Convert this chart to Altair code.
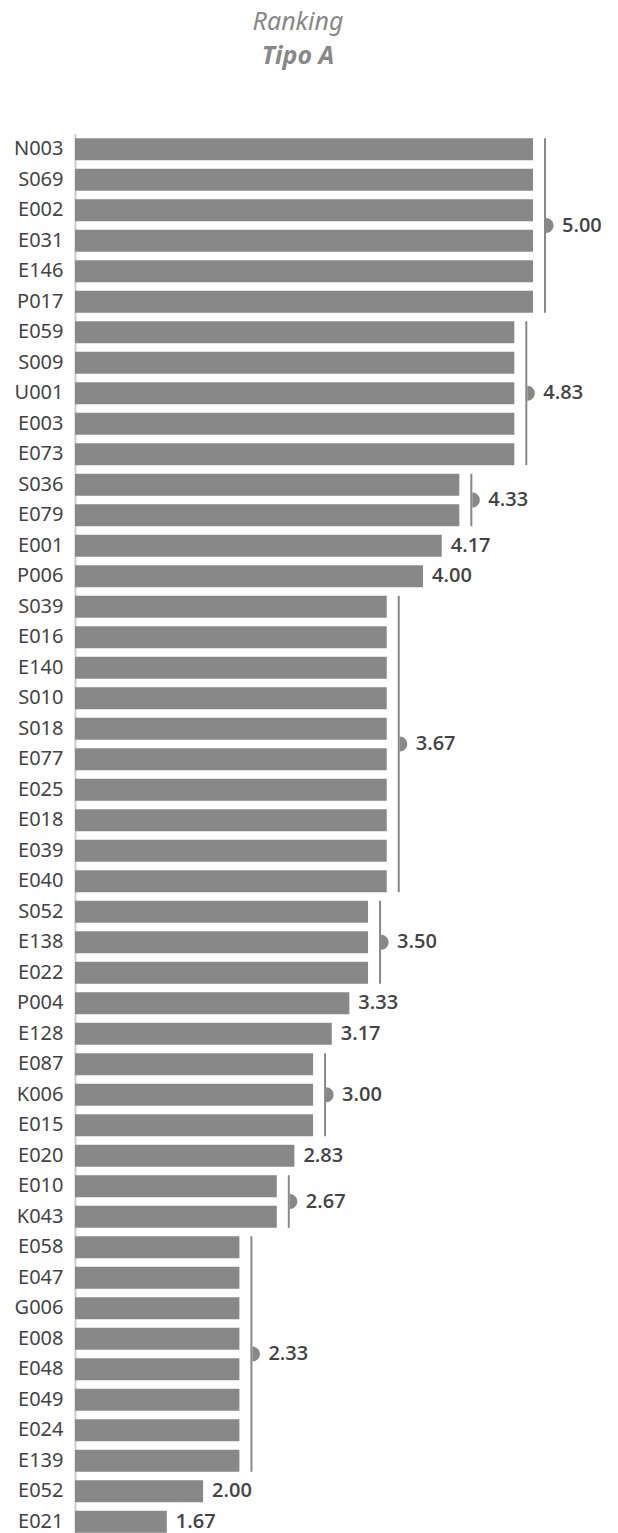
import altair as alt
import pandas as pd

codes = ["N003", "S069", "E002", "E031", "E146", "P017",
         "E059", "S009", "U001", "E003", "E073",
         "S036", "E079", "E001", "P006",
         "S039", "E016", "E140", "S010", "S018", "E077", "E025", "E018", "E039", "E040",
         "S052", "E138", "E022", "P004", "E128",
         "E087", "K006", "E015", "E020", "E010", "K043",
         "E058", "E047", "G006", "E008", "E048", "E049", "E024", "E139",
         "E052", "E021"]
scores = [5.00, 5.00, 5.00, 5.00, 5.00, 5.00,
          4.83, 4.83, 4.83, 4.83, 4.83,
          4.33, 4.33, 4.17, 4.00,
          3.67, 3.67, 3.67, 3.67, 3.67, 3.67, 3.67, 3.67, 3.67, 3.67,
          3.50, 3.50, 3.50, 3.33, 3.17,
          3.00, 3.00, 3.00, 2.83, 2.67, 2.67,
          2.33, 2.33, 2.33, 2.33, 2.33, 2.33, 2.33, 2.33,
          2.00, 1.67]

base_value = min(scores) / 2
df = pd.DataFrame({"code": codes, "score": scores, "base": base_value})

# group consecutive equal scores
groups = []
start = 0
for i in range(1, len(scores) + 1):
    if i == len(scores) or scores[i] != scores[start]:
        n = i - start
        groups.append({
            "first": codes[start],
            "last": codes[i - 1],
            "n": n,
            "score": scores[start],
            "label": f"{scores[start]:.2f}",
            "mid": codes[start + n // 2] if n % 2 == 0 else codes[start + (n - 1) // 2],
            "even": n % 2 == 0,
        })
        start = i
gdf = pd.DataFrame(groups)
multi = gdf[gdf["n"] > 1]
multi_even = multi[multi["even"]]
multi_odd = multi[~multi["even"]]
single = gdf[gdf["n"] == 1]

H = 1403
N = len(codes)
step = H / N

FONT = "Noto Sans"
VFONT = "Open Sans"
GREY = "#888888"

yscale = alt.Scale(domain=codes, paddingInner=0.28, paddingOuter=0.14)
xscale = alt.Scale(domain=[base_value, 5.0], nice=False, zero=False)


def X(field):
    return alt.X(field, type="quantitative", scale=xscale, axis=None, stack=None)


def Y(field):
    return alt.Y(field, type="nominal", sort=codes, scale=yscale, title=None)


bars = alt.Chart(df).mark_bar(color=GREY).encode(
    y=alt.Y("code:N", sort=codes, scale=yscale,
            axis=alt.Axis(title=None, ticks=False, grid=False, domainColor="#cccccc",
                          domainWidth=2, labelFont=FONT, labelFontSize=20,
                          labelColor="#444444", labelPadding=12)),
    x=X("base"),
    x2="score:Q",
)

rules = alt.Chart(multi).mark_rule(color=GREY, strokeWidth=2, xOffset=12,
                                    yOffset=-11, y2Offset=11).encode(
    y=Y("first"),
    y2="last:N",
    x=X("score"),
)

half = "M0,-1A1,1,0,0,1,0,1Z"
DOT = dict(shape=half, size=225, filled=True, opacity=1, color=GREY, xOffset=13)

dots_odd = alt.Chart(multi_odd).mark_point(**DOT).encode(
    y=Y("mid"), x=X("score"),
)
dots_even = alt.Chart(multi_even).mark_point(yOffset=-step / 2, **DOT).encode(
    y=Y("mid"), x=X("score"),
)

lab_kw = dict(align="left", baseline="middle", font=VFONT, fontSize=20,
              fontWeight=600, color="#444444")

text_odd = alt.Chart(multi_odd).mark_text(dx=29, **lab_kw).encode(
    y=Y("mid"), x=X("score"), text="label:N",
)
text_even = alt.Chart(multi_even).mark_text(dx=29, dy=-step / 2, **lab_kw).encode(
    y=Y("mid"), x=X("score"), text="label:N",
)
text_single = alt.Chart(single).mark_text(dx=9, **lab_kw).encode(
    y=Y("first"), x=X("score"), text="label:N",
)

chart = alt.layer(bars, rules, dots_odd, dots_even, text_odd, text_even, text_single).properties(
    width=458,
    height=H,
    background="white",
    padding={"left": 5, "top": 2, "right": 5, "bottom": 5},
    title=alt.TitleParams(
        text="Ranking",
        subtitle="Tipo A",
        font=FONT, fontSize=25, fontStyle="italic", fontWeight="normal", color=GREY,
        subtitleFont=FONT, subtitleFontSize=25, subtitleFontStyle="italic",
        subtitleFontWeight="bold", subtitleColor=GREY, subtitlePadding=9,
        anchor="middle", frame="group", offset=65, dx=-6,
    ),
).configure_view(stroke="transparent", strokeWidth=0)

chart.save("out.html", embed_options={"renderer": "svg", "actions": False})
